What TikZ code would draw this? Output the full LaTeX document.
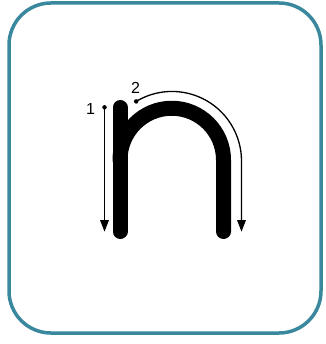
\documentclass[tikz,border=0pt]{standalone}
\usepackage{fontspec}
\setmainfont{Liberation Sans}
\usetikzlibrary{arrows.meta}
\definecolor{frameteal}{RGB}{58,136,158}
\tikzset{
  framebox/.style={draw=frameteal, line width=3.5pt, rounded corners=42pt},
  letterstroke/.style={line width=15pt, line cap=round, line join=round},
  guide/.style={line width=1.3pt, -{Triangle[length=11.5pt,width=8.5pt]}},
  startdot/.style={circle, fill=black, inner sep=0pt, minimum size=4.5pt},
  numlabel/.style={font=\fontsize{16}{16}\selectfont, inner sep=0pt},
}
\begin{document}
\begin{tikzpicture}[x=1pt,y=-1pt]
\useasboundingbox (0,0) rectangle (325,344);
\draw[framebox] (9,3) rectangle (321,333);
% letter n
\coordinate (s1top) at (120,107.5);
\coordinate (s1bot) at (120,231.5);
\coordinate (archL) at (120,160);
\coordinate (s2bot) at (223.5,231.5);
\draw[letterstroke] (s1top) -- (s1bot);
\draw[letterstroke] (archL) arc[start angle=180, end angle=360, radius=51.75] -- (s2bot);
% guide 1
\node[startdot] (d1) at (104.5,107.3) {};
\coordinate (t1) at (104.5,231.7);
\draw[guide] (d1.center) -- (t1);
\node[numlabel] (n1) at (90.5,108.5) {1};
% guide 2
\node[startdot] (d2) at (136.2,101.4) {};
\coordinate (t2) at (241.5,231.7);
\draw[guide] (d2.center) arc[start angle=239, end angle=360, radius=69.5] -- (t2);
\node[numlabel] (n2) at (135.5,87.5) {2};
\end{tikzpicture}
\end{document}
